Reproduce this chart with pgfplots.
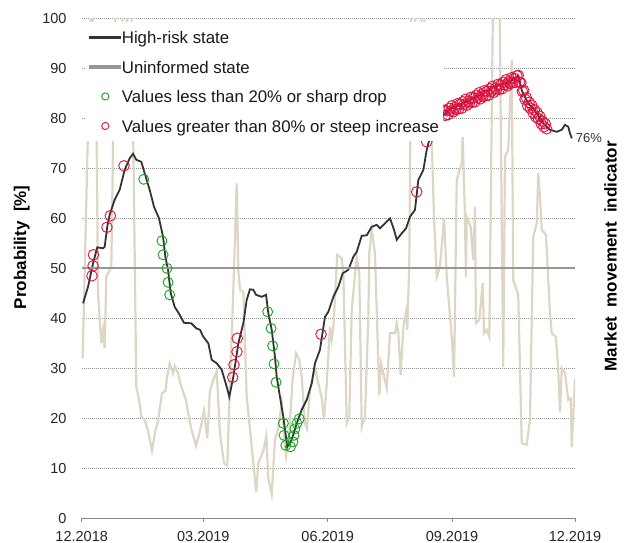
\documentclass[border=0pt]{standalone}
\usepackage{pgfplots}
\pgfplotsset{compat=1.18}
\usepackage{fontspec}
\setmainfont{Liberation Sans}
\definecolor{beige}{RGB}{221,214,196}
\definecolor{hr}{RGB}{51,51,51}
\definecolor{unin}{RGB}{150,150,150}
\definecolor{redc}{RGB}{222,18,62}
\definecolor{greenc}{RGB}{20,165,30}
\definecolor{gridc}{RGB}{150,150,150}
\definecolor{axc}{RGB}{135,135,135}
\begin{document}
\begin{tikzpicture}
\path[use as bounding box] (-81.7pt,-23.7pt) rectangle (548.3pt,518.3pt);
% grid, y tick labels, left label
\begin{axis}[
  scale only axis, width=493.3pt, height=500pt,
  xmin=0, xmax=365, ymin=0, ymax=100,
  axis line style={draw=none},
  xtick=\empty,
  ytick={0,10,...,100}, ytick pos=left,
  major tick length=0pt,
  grid=major,
  major grid style={color=gridc, line width=1pt, dash pattern=on 1pt off 1pt},
  tick label style={font=\fontsize{14.5}{17}\selectfont, text=black!85},
  /pgf/number format/assume math mode=true,
  yticklabel style={inner sep=0pt, xshift=-15pt},
  ylabel={Probability~~[\%]},
  ylabel style={font=\fontsize{17}{20}\selectfont\bfseries, at={(rel axis cs:-0.1216,0.542)}, anchor=center},
]
\addplot[draw=none, forget plot] coordinates {(0,0) (365,0)};
\end{axis}
% market movement indicator and x axis
\begin{axis}[
  scale only axis, width=493.3pt, height=500pt,
  xmin=0, xmax=365, ymin=0, ymax=100,
  axis x line*=bottom, axis y line=none,
  x axis line style={draw=axc, line width=1pt, -},
  xtick={0,90,182,274,365},
  xticklabels={12.2018,03.2019,06.2019,09.2019,12.2019},
  ytick=\empty,
  tick align=outside, major tick length=4pt,
  xtick style={draw=axc, line width=1pt},
  tick label style={font=\fontsize{14.5}{17}\selectfont, text=black!85},
  xticklabel style={inner sep=0pt, yshift=-8.7pt},
]
\addplot[beige, line width=2.2pt] coordinates {
(0.7,32) (7.3,108) (11.1,75) (12.1,45) (14.5,35) (15.8,37.7) (17.0,34) (18.2,48.3) (21.9,50.3) (23.5,80) (25.4,108) (29.1,108) (31.3,90) (33.5,99) (36.5,108) (38.2,75) (40.4,26.3) (42.9,23) (44.1,20.3) (46.6,19.7) (49.1,17.5) (52.0,13.5) (54.5,17.5) (56.5,19.5) (59.4,25) (61.9,25.5) (63.3,28.5) (65.1,31) (67.6,29) (68.8,30.5) (71.3,29) (73.5,26.5) (77.2,23.5) (80.9,18) (84.6,14.5) (87.5,17.5) (90.5,21.5) (92.9,16) (94.9,25.5) (97.4,27.7) (99.9,29.3) (102.3,17) (105.3,11) (107.7,10.5) (109.7,27) (112.2,45.7) (114.7,67) (115.9,49.7) (117.1,45.7) (119.6,45.3) (122.1,24.3) (125.8,14.3) (129.1,5.3) (130.7,11) (134.4,13.5) (136.6,16.5) (138.1,8) (140.6,4.8) (143.0,15.7) (145.5,18) (148.0,23.2) (150.1,15.5) (151.2,12.5) (153.6,17.2) (156.1,28) (158.6,33) (161.0,31.7) (162.8,28.3) (165.2,19) (166.7,18) (168.9,25.7) (172.6,30) (175.1,27) (177.6,24) (179.3,19.7) (181.3,27) (183.7,38.3) (185.0,35.7) (186.2,38.3) (189.1,52.7) (192.4,52) (193.6,49) (196.1,19) (198.0,20.3) (199.8,41.7) (203.5,52.3) (205.4,49) (207.2,18.3) (209.6,20.3) (212.1,40.3) (212.8,53) (214.6,57.7) (217.0,53) (220.2,24.7) (221.5,31) (223.2,29) (225.7,26) (228.1,37) (231.8,37) (233.1,39) (234.3,37) (236.0,28.7) (238.0,38.3) (240.0,41.3) (240.9,37.7) (242.4,51) (244.0,108) (245.9,108) (248.8,80) (252.5,108) (254.8,90) (258.5,80) (260.7,60) (262.7,48.3) (265.1,50.3) (268.1,60) (270.1,48.3) (273.8,36.3) (275.5,28.3) (277.5,67.7) (281.2,71) (281.9,76.3) (283.6,60.3) (284.3,48.3) (284.9,60.3) (287.8,58.3) (289.7,51.7) (291.0,62.3) (291.7,39) (294.2,39.7) (296.7,47) (297.7,37) (299.7,37.7) (301.6,36.3) (304.5,108) (306.5,108) (309.0,108) (311.9,30.3) (313.2,72.3) (315.6,73.7) (318.2,91.7) (319.3,47.7) (323.0,44.7) (325.6,15) (329.3,14.7) (331.7,19.7) (334.1,56.3) (336.7,59) (337.8,69) (339.1,64.3) (340.4,57.7) (343.5,56.7) (346.5,41) (347.8,37) (350.9,36.3) (352.6,29.7) (353.9,21.3) (355.2,30) (357.6,29) (360.0,23.7) (361.8,24) (362.6,14.3) (365.0,28)
};
\end{axis}
% main series, legend, right label
\begin{axis}[
  scale only axis, width=493.3pt, height=500pt,
  xmin=0, xmax=365, ymin=0, ymax=100, clip=false,
  axis x line=none, axis y line*=right, y axis line style={draw=none}, ytick=\empty,
  ylabel={Market~~movement~~indicator},
  ylabel style={font=\fontsize{17}{20}\selectfont\bfseries, at={(rel axis cs:1.072,0.524)}, anchor=center},
  legend style={at={(rel axis cs:0.0087,0.9926)}, anchor=north west, fill=white, draw=none,
    inner xsep=3pt, inner ysep=7pt, font=\fontsize{16.8}{20}\selectfont, row sep=13pt,
    nodes={inner sep=0.5pt}, text=black!90},
  legend cell align=left,
  legend image code/.code={\draw[mark repeat=2,mark phase=2,#1,mark size=3.6pt] plot coordinates {(0pt,0pt)(15pt,0pt)(30pt,0pt)};},
]
\addplot[hr, line width=1.8pt, legend image code/.code={\fill[hr] (0pt,-0.9pt) rectangle (30pt,0.9pt);}] coordinates {
(1.0,43.0) (4.7,46.3) (8.4,51.0) (11.5,54.2) (15.8,54.0) (17.0,54.3) (18.9,58.3) (20.7,60.7) (24.4,63.7) (28.1,65.7) (31.8,69.7) (35.5,72.0) (38.0,72.9) (40.4,71.7) (44.1,71.3) (46.6,69.0) (50.3,65.7) (53.5,62.3) (57.2,60.0) (60.2,56.3) (61.9,52.3) (63.9,49.7) (65.9,45.0) (68.8,42.3) (72.5,40.7) (75.7,39.1) (81.1,39.0) (84.8,38.0) (87.5,37.7) (90.0,36.3) (93.7,35.0) (96.2,31.7) (99.9,31.0) (103.6,29.7) (107.3,26.3) (109.2,24.3) (112.2,28.3) (115.9,35.0) (119.6,39.0) (122.1,43.7) (124.5,45.8) (127.0,45.7) (129.0,44.7) (133.2,44.3) (136.4,44.7) (138.1,41.0) (140.6,37.7) (143.0,32.3) (144.3,28.3) (146.7,24.3) (149.2,20.3) (152.1,14.3) (155.4,15.7) (159.1,19.0) (162.8,21.7) (166.5,23.7) (170.2,27.0) (172.6,31.0) (176.3,33.7) (180.0,40.3) (182.5,41.3) (186.2,44.3) (189.9,46.3) (193.1,49.0) (197.3,49.7) (201.0,52.3) (203.5,53.3) (207.2,56.5) (210.9,56.6) (214.6,58.3) (218.3,58.7) (220.7,58.0) (224.4,59.0) (228.1,60.0) (231.1,57.7) (233.1,55.7) (236.8,57.0) (240.0,58.0) (242.9,60.3) (246.6,61.7) (249.1,67.7) (252.8,69.7) (255.3,73.7) (256.5,75.0) (261.4,79.0) (266.6,80.5) (272.5,81.8) (276.2,82.3) (279.9,82.6) (283.6,83.2) (287.3,83.6) (292.3,84.3) (297.2,84.9) (302.1,85.9) (307.1,86.5) (313.2,86.9) (318.2,87.6) (323.1,88.5) (325.6,85.6) (328.0,84.3) (330.5,82.9) (334.2,81.9) (337.8,80.6) (340.4,79.3) (344.1,78.3) (346.5,77.7) (351.5,77.3) (355.2,77.7) (357.6,78.7) (360.0,78.3) (361.3,77.0) (362.6,76.0)
};
\addlegendentry{\strut High-risk state}
\addplot[unin, line width=2.2pt, legend image code/.code={\fill[unin] (0pt,-1.1pt) rectangle (30pt,1.1pt);}] coordinates {(0,50) (365,50)};
\addlegendentry{\strut Uninformed state}
\addplot[only marks, mark=o, mark size=5pt, greenc, line width=0.9pt] coordinates {
(45.9,67.8) (59.4,55.5) (60.2,52.7) (63.1,50.0) (63.9,47.2) (65.1,44.7) (137.6,41.3) (140.1,38.0) (141.3,34.5) (142.3,30.9) (143.8,27.2) (149.2,19.0) (149.7,16.6) (151.0,14.6) (154.5,14.3) (156.3,15.3) (157.1,16.6) (157.8,17.9) (159.3,19.0) (161.0,19.9)
};
\addlegendentry{\strut Values less than 20\% or sharp drop}
\addplot[only marks, mark=o, mark size=5.3pt, redc, line width=0.9pt] coordinates {
(7.6,48.5) (8.4,50.5) (8.7,52.7) (18.7,58.2) (21.2,60.5) (31.3,70.5) (111.7,28.2) (112.7,30.7) (114.9,33.3) (115.1,36.0) (177.1,36.8) (247.9,65.3) (255.3,75.3)
(268,81.6) (269,80.6) (270,81.5) (271,80.7) (272,82.0) (273,81.5) (274,82.5) (275,81.3) (276,82.1) (277,81.8) (278,82.9) (279,81.9) (280,82.8) (281,82.0) (282,83.3) (283,82.8) (284,83.8) (285,82.6) (286,83.4) (287,83.1) (288,84.2) (289,83.2) (290,84.1) (291,83.3) (292,84.6) (293,84.1) (294,85.1) (295,83.9) (296,84.7) (297,84.4) (298,85.5) (299,84.5) (300,85.4) (301,84.6) (302,85.9) (303,85.4) (304,86.4) (305,85.2) (306,86.0) (307,85.7) (308,86.8) (309,85.8) (310,86.7) (311,85.9) (312,87.2) (313,86.7) (314,87.7) (315,86.5) (316,87.3) (317,87.0) (318,88.1) (319,87.1) (320,88.0) (321,87.2) (322,88.5) (323,88.6) (324,87.2) (325,87.1) (326,85.4) (327,85.6) (328,83.8) (329,84.1) (330,82.5) (331,83.2) (332,82.0) (333,82.6) (334,81.1) (335,81.7) (336,80.3) (337,81.1) (338,79.9) (339,80.4) (340,78.9) (341,79.4) (342,78.3) (343,78.9) (344,77.9)
};
\addlegendentry{\strut Values greater than 80\% or steep increase}
\addplot[forget plot, only marks, mark=none, nodes near coords={76\%},
  every node near coord/.style={anchor=west, font=\fontsize{13}{15}\selectfont, text=black!80, inner sep=2pt, xshift=2pt}]
  coordinates {(362.6,76)};
\end{axis}
\end{tikzpicture}
\end{document}
